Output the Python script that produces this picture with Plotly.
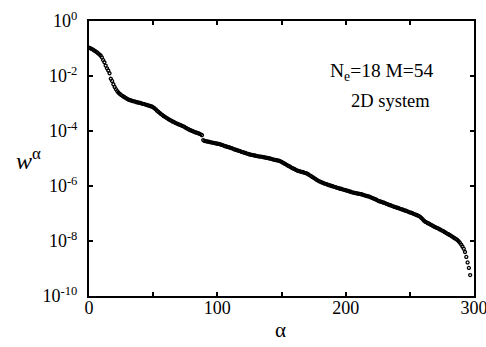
import plotly.graph_objects as go

# log10 of w^alpha for alpha = 0..297
log_w = [
    -0.97, -0.99, -1.01, -1.04, -1.07, -1.10, -1.13, -1.17, -1.21, -1.25,
    -1.32, -1.42, -1.50, -1.62, -1.72, -1.80, -1.90, -2.10, -2.18, -2.30,
    -2.40, -2.48, -2.55, -2.61, -2.65, -2.69, -2.72, -2.75, -2.78, -2.81,
    -2.84, -2.86, -2.88, -2.89, -2.91, -2.92, -2.93, -2.95, -2.96, -2.97,
    -2.98, -3.00, -3.01, -3.02, -3.04, -3.05, -3.07, -3.08, -3.10, -3.11,
    -3.14, -3.17, -3.21, -3.26, -3.30, -3.34, -3.38, -3.41, -3.45, -3.48,
    -3.51, -3.54, -3.57, -3.60, -3.62, -3.65, -3.67, -3.70, -3.72, -3.74,
    -3.76, -3.78, -3.80, -3.82, -3.84, -3.87, -3.90, -3.92, -3.95, -3.97,
    -3.99, -4.01, -4.03, -4.05, -4.06, -4.08, -4.10, -4.12, -4.15, -4.33,
    -4.36, -4.37, -4.38, -4.39, -4.40, -4.41, -4.42, -4.43, -4.44, -4.45,
    -4.46, -4.47, -4.48, -4.50, -4.51, -4.53, -4.55, -4.56, -4.58, -4.59,
    -4.61, -4.62, -4.64, -4.66, -4.68, -4.69, -4.71, -4.72, -4.74, -4.76,
    -4.77, -4.79, -4.80, -4.82, -4.83, -4.85, -4.86, -4.87, -4.88, -4.89,
    -4.90, -4.91, -4.92, -4.93, -4.93, -4.94, -4.95, -4.96, -4.97, -4.98,
    -4.99, -5.00, -5.01, -5.03, -5.04, -5.05, -5.06, -5.07, -5.08, -5.10,
    -5.12, -5.15, -5.18, -5.20, -5.23, -5.26, -5.28, -5.31, -5.34, -5.36,
    -5.38, -5.41, -5.43, -5.45, -5.46, -5.48, -5.49, -5.50, -5.52, -5.53,
    -5.55, -5.58, -5.61, -5.64, -5.67, -5.70, -5.73, -5.76, -5.79, -5.82,
    -5.84, -5.86, -5.88, -5.90, -5.92, -5.93, -5.95, -5.97, -5.98, -6.00,
    -6.01, -6.03, -6.04, -6.06, -6.07, -6.09, -6.10, -6.11, -6.13, -6.14,
    -6.15, -6.17, -6.18, -6.20, -6.21, -6.23, -6.24, -6.25, -6.26, -6.27,
    -6.28, -6.29, -6.30, -6.31, -6.33, -6.34, -6.36, -6.37, -6.38, -6.40,
    -6.42, -6.44, -6.46, -6.48, -6.50, -6.53, -6.55, -6.56, -6.58, -6.60,
    -6.61, -6.63, -6.65, -6.67, -6.69, -6.70, -6.72, -6.74, -6.76, -6.77,
    -6.79, -6.80, -6.82, -6.84, -6.85, -6.87, -6.89, -6.90, -6.92, -6.94,
    -6.96, -6.97, -6.99, -7.01, -7.03, -7.05, -7.07, -7.09, -7.12, -7.16,
    -7.21, -7.26, -7.30, -7.32, -7.35, -7.37, -7.40, -7.42, -7.45, -7.48,
    -7.50, -7.52, -7.54, -7.57, -7.59, -7.62, -7.64, -7.67, -7.70, -7.73,
    -7.75, -7.78, -7.81, -7.84, -7.87, -7.90, -7.93, -7.96, -8.01, -8.06,
    -8.13, -8.20, -8.28, -8.40, -8.58, -8.78, -8.98, -9.24,
]
alpha = list(range(len(log_w)))
w = [10 ** v for v in log_w]

x_tickvals = [0, 50, 100, 150, 200, 250, 300]
x_ticktext = ["0", "", "100", "", "200", "", "300"]
y_exponents = [0, -2, -4, -6, -8, -10]
y_tickvals = [10.0 ** e for e in y_exponents]
y_ticktext = ["10<sup>%d</sup>" % e for e in y_exponents]

FONT = "Liberation Serif, Times New Roman, serif"

fig = go.Figure()
fig.add_trace(go.Scatter(
    x=alpha, y=w, mode="markers",
    marker=dict(symbol="circle-open", size=3, color="black",
                line=dict(width=1.3, color="black")),
    showlegend=False, hoverinfo="skip",
))

fig.update_layout(
    width=486, height=347,
    margin=dict(l=89, r=12, t=21, b=51),
    paper_bgcolor="white", plot_bgcolor="white",
    font=dict(family=FONT, size=17, color="black"),
    xaxis=dict(
        range=[0, 300], tickvals=x_tickvals, ticktext=x_ticktext,
        ticks="inside", ticklen=4, tickwidth=1.5, tickcolor="black",
        showline=True, linewidth=2, linecolor="black", mirror="ticks",
        showgrid=False, zeroline=False, automargin=False,
        ticklabeloverflow="allow", ticklabelstandoff=-6,
        tickfont=dict(family=FONT, size=18),
    ),
    yaxis=dict(
        type="log", range=[-10, 0], tickvals=y_tickvals, ticktext=y_ticktext,
        ticks="inside", ticklen=4, tickwidth=1.5, tickcolor="black",
        showline=True, linewidth=2, linecolor="black", mirror="ticks",
        showgrid=False, zeroline=False, automargin=False,
        ticklabeloverflow="allow", ticklabelstandoff=6,
        tickfont=dict(family=FONT, size=18),
    ),
    annotations=[
        dict(text="α", xref="paper", yref="paper",
             x=0.497, y=-0.123, xanchor="center", yanchor="middle",
             showarrow=False, font=dict(family=FONT, size=21)),
        dict(text="<i>w</i><sup>α</sup>", xref="paper", yref="paper",
             x=-0.158, y=0.5, xanchor="center", yanchor="middle",
             showarrow=False, font=dict(family=FONT, size=24)),
        dict(text="N<sub>e</sub>=18 M=54", xref="paper", yref="paper",
             x=0.901, y=0.815, xanchor="right", yanchor="middle",
             showarrow=False, font=dict(family=FONT, size=19.5)),
        dict(text="2D system", xref="paper", yref="paper",
             x=0.891, y=0.71, xanchor="right", yanchor="middle",
             showarrow=False, font=dict(family=FONT, size=18.5)),
    ],
)

fig.write_html(
    "out.html",
    config={"displayModeBar": False},
    post_script="document.body.style.margin='0';document.body.style.padding='0';",
)
